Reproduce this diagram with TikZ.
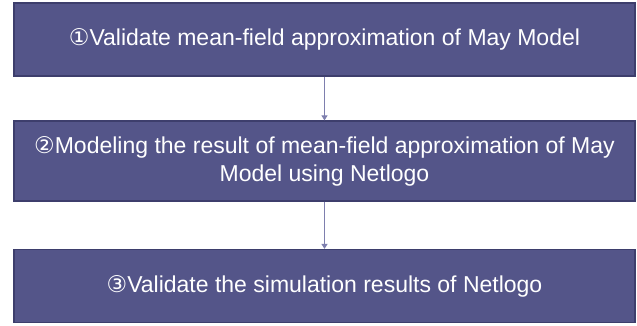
\documentclass[tikz,border=0pt]{standalone}
\usepackage{fontspec}
\setmainfont{Liberation Sans}
\newfontfamily\symfont{DejaVu Sans}
\usetikzlibrary{arrows.meta}
\definecolor{boxfill}{HTML}{545589}
\definecolor{boxline}{HTML}{3D3E6C}
\definecolor{arrowc}{HTML}{7E7FAE}
\tikzset{
  stepbox/.style={draw=boxline, line width=1.2pt, fill=boxfill, text=white,
    minimum width=621pt, inner sep=0pt, align=center,
    font=\fontsize{23}{28}\selectfont},
  flow/.style={draw=arrowc, line width=1pt, -{Triangle[width=6pt,length=5pt]}}
}
\begin{document}
\begin{tikzpicture}[x=1pt,y=1pt]
\useasboundingbox (0,0) rectangle (637,325);
\node[stepbox, minimum height=73pt] (b1) at (324.5,285.5) {{\symfont ①}Validate mean-field approximation of May Model};
\node[stepbox, minimum height=80pt] (b2) at (324.5,164) {{\symfont ②}Modeling the result of mean-field approximation of May\\Model using Netlogo};
\node[stepbox, minimum height=73pt] (b3) at (324.5,39) {{\symfont ③}Validate the simulation results of Netlogo};
\draw[flow] (b1) -- (b2);
\draw[flow] (b2) -- (b3);
\end{tikzpicture}
\end{document}
